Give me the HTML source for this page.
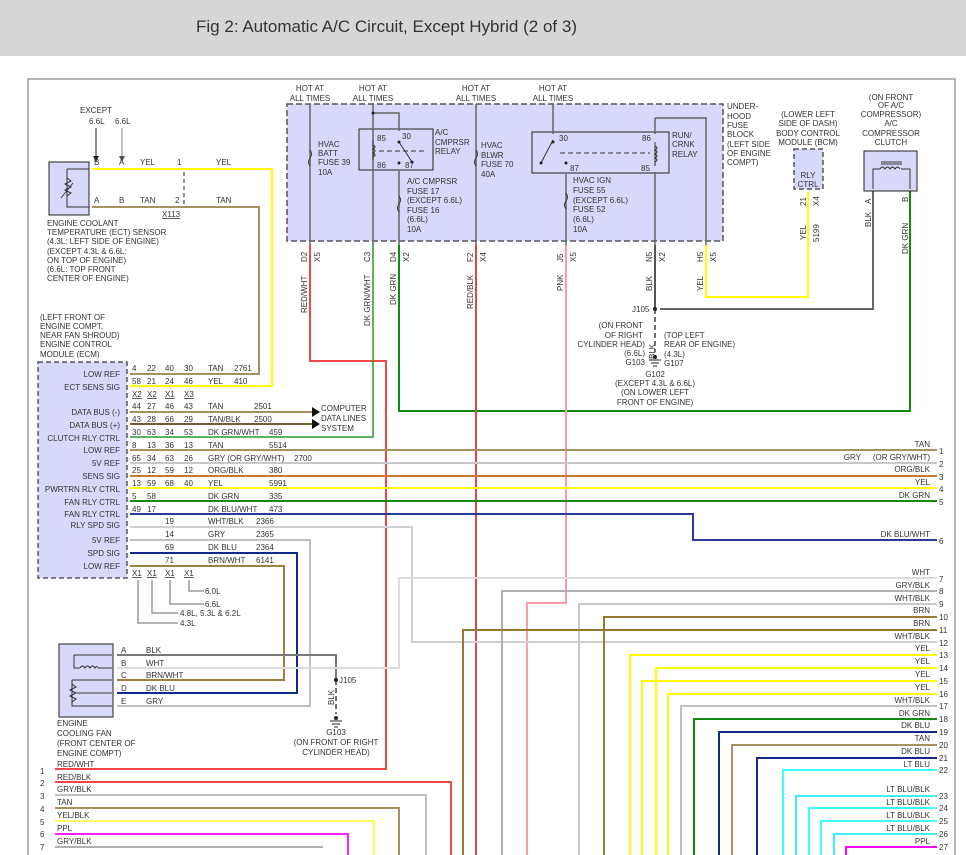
<!DOCTYPE html>
<html><head><meta charset="utf-8"><style>
html,body{margin:0;padding:0;background:#fff;}
svg{display:block;}
text{font-family:"Liberation Sans",sans-serif;font-size:8px;fill:#333;}
</style></head><body>
<svg width="966" height="855" viewBox="0 0 966 855" xmlns="http://www.w3.org/2000/svg">
<rect x="0" y="0" width="966" height="56" fill="#d6d6d6"/>
<text x="196" y="32" style="font-size:17px;fill:#333" textLength="381" lengthAdjust="spacingAndGlyphs">Fig 2: Automatic A/C Circuit, Except Hybrid (2 of 3)</text>
<path d="M28 855 V79 H955 V855" fill="none" stroke="#888" stroke-width="1.2"/>

<!-- Fuse block -->
<rect x="287" y="104" width="436" height="137" fill="#d8d8fa" stroke="#555" stroke-width="1.5" stroke-dasharray="6,3"/>
<rect x="359" y="129" width="74" height="41" fill="none" stroke="#222" stroke-width="1"/>
<rect x="532" y="132" width="137" height="41" fill="none" stroke="#222" stroke-width="1"/>
<g stroke="#666" stroke-width="1.5" fill="none">
<path d="M310 104 V245"/>
<path d="M373 103 V245"/><path d="M373 113 H399 V131"/>
<path d="M399 171 V245"/>
<path d="M476 104 V245"/>
<path d="M553 103 V134"/>
<path d="M566 174 V245"/>
<path d="M655 118 H706 V245"/><path d="M655 118 V134"/><path d="M655 172 V245"/>
</g>
<g stroke="#333" stroke-width="1" fill="none">
<path d="M373 140 V160 M373 145 q4 2 0 4 q4 2 0 4 q4 2 0 4"/>
<path d="M379 151 H424" stroke-dasharray="5,3"/>
<path d="M399 142 L412 162 V163"/>
<path d="M655 142 V166 M655 146 q4 2 0 4 q4 2 0 4 q4 2 0 4 q4 2 0 4"/>
<path d="M560 153 H650" stroke-dasharray="5,3"/>
<path d="M553 140 L541 163"/>
<path d="M310 150 q3 4 0 8 q-3 4 0 8"/><path d="M476 150 q3 4 0 8 q-3 4 0 8"/>
<path d="M399 196 q3 4 0 8 q-3 4 0 8"/><path d="M566 193 q3 4 0 8 q-3 4 0 8"/>
</g>
<g fill="#222">
<circle cx="373" cy="113" r="1.5"/><circle cx="399" cy="142" r="1.5"/><circle cx="412" cy="162" r="1.5"/><circle cx="399" cy="163" r="1.5"/>
<circle cx="553" cy="142" r="1.5"/><circle cx="541" cy="163" r="1.5"/><circle cx="566" cy="163" r="1.5"/>
</g>
<g text-anchor="middle">
<text x="310" y="91">HOT AT</text><text x="310" y="101">ALL TIMES</text>
<text x="373" y="91">HOT AT</text><text x="373" y="101">ALL TIMES</text>
<text x="476" y="91">HOT AT</text><text x="476" y="101">ALL TIMES</text>
<text x="553" y="91">HOT AT</text><text x="553" y="101">ALL TIMES</text>
</g>
<text x="318" y="147">HVAC</text><text x="318" y="156">BATT</text><text x="318" y="165">FUSE 39</text><text x="318" y="175">10A</text>
<text x="377" y="141">85</text><text x="402" y="139">30</text><text x="377" y="168">86</text><text x="405" y="168">87</text>
<text x="435" y="135">A/C</text><text x="435" y="145">CMPRSR</text><text x="435" y="154">RELAY</text>
<text x="407" y="184">A/C CMPRSR</text><text x="407" y="194">FUSE 17</text><text x="407" y="203">(EXCEPT 6.6L)</text><text x="407" y="213">FUSE 16</text><text x="407" y="222">(6.6L)</text><text x="407" y="232">10A</text>
<text x="481" y="148">HVAC</text><text x="481" y="158">BLWR</text><text x="481" y="167">FUSE 70</text><text x="481" y="177">40A</text>
<text x="559" y="141">30</text><text x="642" y="141">86</text><text x="570" y="171">87</text><text x="641" y="171">85</text>
<text x="672" y="138">RUN/</text><text x="672" y="147">CRNK</text><text x="672" y="157">RELAY</text>
<text x="573" y="183">HVAC IGN</text><text x="573" y="193">FUSE 55</text><text x="573" y="203">(EXCEPT 6.6L)</text><text x="573" y="212">FUSE 52</text><text x="573" y="222">(6.6L)</text><text x="573" y="232">10A</text>
<text x="727" y="109">UNDER-</text><text x="727" y="119">HOOD</text><text x="727" y="128">FUSE</text><text x="727" y="137">BLOCK</text><text x="727" y="147">(LEFT SIDE</text><text x="727" y="156">OF ENGINE</text><text x="727" y="165">COMPT)</text>

<g>
<text transform="translate(307,262) rotate(-90)">D2</text><text transform="translate(320,262) rotate(-90)">X5</text>
<text transform="translate(370,262) rotate(-90)">C3</text>
<text transform="translate(396,262) rotate(-90)">D4</text><text transform="translate(409,262) rotate(-90)">X2</text>
<text transform="translate(473,262) rotate(-90)">F2</text><text transform="translate(486,262) rotate(-90)">X4</text>
<text transform="translate(563,262) rotate(-90)">J5</text><text transform="translate(576,262) rotate(-90)">X5</text>
<text transform="translate(652,262) rotate(-90)">N5</text><text transform="translate(665,262) rotate(-90)">X2</text>
<text transform="translate(703,262) rotate(-90)">H5</text><text transform="translate(716,262) rotate(-90)">X5</text>
<text transform="translate(307,313) rotate(-90)">RED/WHT</text>
<text transform="translate(370,326) rotate(-90)">DK GRN/WHT</text>
<text transform="translate(396,305) rotate(-90)">DK GRN</text>
<text transform="translate(473,309) rotate(-90)">RED/BLK</text>
<text transform="translate(563,291) rotate(-90)">PNK</text>
<text transform="translate(652,291) rotate(-90)">BLK</text>
<text transform="translate(703,291) rotate(-90)">YEL</text>
<text transform="translate(806,206) rotate(-90)">21</text><text transform="translate(819,206) rotate(-90)">X4</text>
<text transform="translate(806,240) rotate(-90)">YEL</text><text transform="translate(819,242) rotate(-90)">5199</text>
<text transform="translate(871,227) rotate(-90)">BLK</text><text transform="translate(871,204) rotate(-90)">A</text>
<text transform="translate(908,202) rotate(-90)">B</text>
<text transform="translate(908,254) rotate(-90)">DK GRN</text>
<text transform="translate(655,359) rotate(-90)">BLK</text>
<text transform="translate(334,705) rotate(-90)">BLK</text>
</g>

<g fill="none" stroke-width="2">
<path d="M310 245 V361 H386 V769 H55" stroke="#f04848"/>
<path d="M373 245 V437 H130" stroke="#2a9a2a" stroke-width="1.5"/>
<path d="M399 245 V411 H910 V191" stroke="#108a10"/>
<path d="M476 245 V855" stroke="#e04848"/>
<path d="M566 245 V603 H527 V855" stroke="#ff9aaa"/>
<path d="M655 245 V309" stroke="#555"/>
<path d="M706 245 V297 H808 V192" stroke="#ffff00"/>
<path d="M660 309 H873 V191" stroke="#666"/>
</g>
<path d="M655 309 V352" stroke="#444" stroke-width="1.5" stroke-dasharray="5,3"/>
<circle cx="655" cy="309" r="2" fill="#222"/>
<path d="M649 360 H661 M651 363 H659 M653 366 H657" stroke="#222"/>
<circle cx="655" cy="357" r="2" fill="#222"/>
<text x="632" y="312">J105</text>
<g text-anchor="end"><text x="643" y="328">(ON FRONT</text><text x="643" y="338">OF RIGHT</text><text x="645" y="347">CYLINDER HEAD)</text><text x="645" y="356">(6.6L)</text><text x="645" y="365">G103</text></g>
<text x="664" y="338">(TOP LEFT</text><text x="664" y="347">REAR OF ENGINE)</text><text x="664" y="357">(4.3L)</text><text x="664" y="366">G107</text>
<g text-anchor="middle"><text x="655" y="377">G102</text><text x="655" y="386">(EXCEPT 4.3L &amp; 6.6L)</text><text x="655" y="395">(ON LOWER LEFT</text><text x="655" y="405">FRONT OF ENGINE)</text></g>

<rect x="794" y="149" width="29" height="40" fill="#d8d8fa" stroke="#555" stroke-width="1.5" stroke-dasharray="5,3"/>
<g text-anchor="middle"><text x="808" y="117">(LOWER LEFT</text><text x="808" y="126">SIDE OF DASH)</text><text x="808" y="136">BODY CONTROL</text><text x="808" y="145">MODULE (BCM)</text>
<text x="808" y="178">RLY</text><text x="808" y="187">CTRL</text>
<text x="891" y="100">(ON FRONT</text><text x="891" y="108">OF A/C</text><text x="891" y="117">COMPRESSOR)</text><text x="891" y="126">A/C</text><text x="891" y="136">COMPRESSOR</text><text x="891" y="145">CLUTCH</text></g>
<rect x="864" y="151" width="53" height="40" fill="#d8d8fa" stroke="#222" stroke-width="1"/>
<path d="M873 189 V169 H880 M901 169 H910 V189" stroke="#333" fill="none"/>
<path d="M880 169 q2.5 -4 5 0 q2.5 -4 5 0 q2.5 -4 5 0 q2.5 -4 5 0" stroke="#333" fill="none"/>
<path d="M881 162 H902 M881 164 H902" stroke="#333"/>

<rect x="49" y="162" width="40" height="53" fill="#d8d8fa" stroke="#222"/>
<path d="M67 169 H89 M67 169 V207 H89" stroke="#333" fill="none"/>
<path d="M67 178 l4 3 l-6 3 l6 3 l-6 3 l6 3 l-4 3 M61 198 l12 -15" stroke="#333" fill="none"/>
<path d="M96 128 V158" stroke="#222"/><path d="M93 156 L96 162 L99 156Z" fill="#222"/>
<path d="M122 128 V158" stroke="#888"/><path d="M119 156 L122 162 L125 156Z" fill="#555"/>
<text x="80" y="113">EXCEPT</text><text x="89" y="124">6.6L</text><text x="115" y="124">6.6L</text>
<text x="94" y="165">B</text><text x="119" y="165">A</text><text x="140" y="165">YEL</text><text x="177" y="165">1</text><text x="216" y="165">YEL</text>
<text x="94" y="203">A</text><text x="119" y="203">B</text><text x="140" y="203">TAN</text><text x="175" y="203">2</text><text x="216" y="203">TAN</text>
<text x="162" y="217" text-decoration="underline">X113</text>
<path d="M184 172 V204" stroke="#222" stroke-dasharray="4,3"/>
<g fill="none" stroke-width="2">
<path d="M92 169 H272 V386 H130" stroke="#ffff00"/>
<path d="M92 207 H259 V374 H130" stroke="#a89060"/>
</g>
<g><text x="47" y="226">ENGINE COOLANT</text><text x="47" y="235">TEMPERATURE (ECT) SENSOR</text><text x="47" y="244">(4.3L: LEFT SIDE OF ENGINE)</text><text x="47" y="254">(EXCEPT 4.3L &amp; 6.6L:</text><text x="47" y="263">ON TOP OF ENGINE)</text><text x="47" y="272">(6.6L: TOP FRONT</text><text x="47" y="281">CENTER OF ENGINE)</text>
<text x="40" y="320">(LEFT FRONT OF</text><text x="40" y="329">ENGINE COMPT,</text><text x="40" y="338">NEAR FAN SHROUD)</text><text x="40" y="347">ENGINE CONTROL</text><text x="40" y="357">MODULE (ECM)</text></g>

<rect x="38" y="362" width="89" height="216" fill="#d8d8fa" stroke="#555" stroke-width="1.5" stroke-dasharray="5,3"/>
<g text-anchor="end">
<text x="120" y="377">LOW REF</text><text x="120" y="390">ECT SENS SIG</text><text x="120" y="415">DATA BUS (-)</text><text x="120" y="428">DATA BUS (+)</text><text x="120" y="441">CLUTCH RLY CTRL</text><text x="120" y="453">LOW REF</text><text x="120" y="466">5V REF</text><text x="120" y="479">SENS SIG</text><text x="120" y="492">PWRTRN RLY CTRL</text><text x="120" y="505">FAN RLY CTRL</text><text x="120" y="517">FAN RLY CTRL</text><text x="120" y="528">RLY SPD SIG</text><text x="120" y="543">5V REF</text><text x="120" y="556">SPD SIG</text><text x="120" y="569">LOW REF</text>
</g>
<g fill="none" stroke-width="2">
<path d="M130 412 H312" stroke="#a89060"/>
<path d="M130 424 H312" stroke="#6e5e3a"/>
<path d="M130 450 H937" stroke="#a89060"/>
<path d="M130 463 H937" stroke="#c8c8c8"/>
<path d="M130 476 H937" stroke="#c87a30"/>
<path d="M130 488 H937" stroke="#ffff00"/>
<path d="M130 501 H937" stroke="#138a13"/>
<path d="M130 514 H693 V540 H937" stroke="#2a3a9a"/>
<path d="M130 527 H412 V642 H937" stroke="#d0d0d0"/>
<path d="M130 540 H310 V706 H117" stroke="#c0c0c0"/>
<path d="M130 553 H297 V693 H117" stroke="#102a8a"/>
<path d="M130 566 H284 V680 H117" stroke="#a08040"/>
<path d="M117 655 H336 V680" stroke="#777"/>
<path d="M117 668 H399 V578 H937" stroke="#dcdcdc"/>
</g>
<path d="M312 407 L320 412 L312 417Z M312 419 L320 424 L312 429Z" fill="#111"/>
<text x="321" y="411">COMPUTER</text><text x="321" y="421">DATA LINES</text><text x="321" y="431">SYSTEM</text>
<g>
<text x="132" y="371">4</text><text x="147" y="371">22</text><text x="165" y="371">40</text><text x="184" y="371">30</text><text x="208" y="371">TAN</text><text x="234" y="371">2761</text>
<text x="132" y="384">58</text><text x="147" y="384">21</text><text x="165" y="384">24</text><text x="184" y="384">46</text><text x="208" y="384">YEL</text><text x="234" y="384">410</text>
<text x="132" y="397" text-decoration="underline">X2</text><text x="147" y="397" text-decoration="underline">X2</text><text x="165" y="397" text-decoration="underline">X1</text><text x="184" y="397" text-decoration="underline">X3</text>
<text x="132" y="409">44</text><text x="147" y="409">27</text><text x="165" y="409">46</text><text x="184" y="409">43</text><text x="208" y="409">TAN</text><text x="254" y="409">2501</text>
<text x="132" y="422">43</text><text x="147" y="422">28</text><text x="165" y="422">66</text><text x="184" y="422">29</text><text x="208" y="422">TAN/BLK</text><text x="254" y="422">2500</text>
<text x="132" y="435">30</text><text x="147" y="435">63</text><text x="165" y="435">34</text><text x="184" y="435">53</text><text x="208" y="435">DK GRN/WHT</text><text x="269" y="435">459</text>
<text x="132" y="448">8</text><text x="147" y="448">13</text><text x="165" y="448">36</text><text x="184" y="448">13</text><text x="208" y="448">TAN</text><text x="269" y="448">5514</text>
<text x="132" y="461">65</text><text x="147" y="461">34</text><text x="165" y="461">63</text><text x="184" y="461">26</text><text x="208" y="461">GRY (OR GRY/WHT)</text><text x="294" y="461">2700</text>
<text x="132" y="473">25</text><text x="147" y="473">12</text><text x="165" y="473">59</text><text x="184" y="473">12</text><text x="208" y="473">ORG/BLK</text><text x="269" y="473">380</text>
<text x="132" y="486">13</text><text x="147" y="486">59</text><text x="165" y="486">68</text><text x="184" y="486">40</text><text x="208" y="486">YEL</text><text x="269" y="486">5991</text>
<text x="132" y="499">5</text><text x="147" y="499">58</text><text x="208" y="499">DK GRN</text><text x="269" y="499">335</text>
<text x="132" y="512">49</text><text x="147" y="512">17</text><text x="208" y="512">DK BLU/WHT</text><text x="269" y="512">473</text>
<text x="165" y="524">19</text><text x="208" y="524">WHT/BLK</text><text x="256" y="524">2366</text>
<text x="165" y="537">14</text><text x="208" y="537">GRY</text><text x="256" y="537">2365</text>
<text x="165" y="550">69</text><text x="208" y="550">DK BLU</text><text x="256" y="550">2364</text>
<text x="165" y="563">71</text><text x="208" y="563">BRN/WHT</text><text x="256" y="563">6141</text>
<text x="132" y="576" text-decoration="underline">X1</text><text x="147" y="576" text-decoration="underline">X1</text><text x="165" y="576" text-decoration="underline">X1</text><text x="184" y="576" text-decoration="underline">X1</text>
</g>
<g fill="none" stroke="#888" stroke-width="1.3">
<path d="M189 580 V591 H204 M170 580 V604 H204 M152 580 V613 H178 M138 580 V623 H178"/>
</g>
<text x="205" y="594">6.0L</text><text x="205" y="607">6.6L</text><text x="180" y="616">4.8L, 5.3L &amp; 6.2L</text><text x="180" y="626">4.3L</text>

<rect x="59" y="644" width="54" height="73" fill="#d8d8fa" stroke="#222"/>
<path d="M74 655 H112 M74 655 V668 H80 M98 668 H112 M72 680 H112 M72 680 V706 H112 M77 693 H112" stroke="#333" fill="none"/>
<path d="M80 668 q2.5 -4 5 0 q2.5 -4 5 0 q2.5 -4 5 0 q1.5 -3 3 0" stroke="#333" fill="none"/>
<path d="M72 684 l4 3 l-6 3 l6 3 l-6 3 l6 3 l-4 3" stroke="#333" fill="none"/>
<text x="121" y="653">A</text><text x="121" y="666">B</text><text x="121" y="678">C</text><text x="121" y="691">D</text><text x="121" y="704">E</text>
<text x="146" y="653">BLK</text><text x="146" y="666">WHT</text><text x="146" y="678">BRN/WHT</text><text x="146" y="691">DK BLU</text><text x="146" y="704">GRY</text>
<text x="57" y="726">ENGINE</text><text x="57" y="736">COOLING FAN</text><text x="57" y="746">(FRONT CENTER OF</text><text x="57" y="756">ENGINE COMPT)</text>
<path d="M336 680 V714" stroke="#444" stroke-width="1.5" stroke-dasharray="5,3"/>
<circle cx="336" cy="680" r="2" fill="#222"/><circle cx="336" cy="718" r="2" fill="#222"/>
<path d="M330 721 H342 M332 724 H340 M334 727 H338" stroke="#222"/>
<text x="339" y="683">J105</text>
<g text-anchor="middle"><text x="336" y="735">G103</text><text x="336" y="745">(ON FRONT OF RIGHT</text><text x="336" y="755">CYLINDER HEAD)</text></g>

<g fill="none" stroke-width="2">
<path d="M55 782 H451 V855" stroke="#f04848"/>
<path d="M55 795 H426 V855" stroke="#c0c0c0"/>
<path d="M55 808 H399 V855" stroke="#a89060"/>
<path d="M55 821 H374 V855" stroke="#ffff60"/>
<path d="M55 834 H348 V855" stroke="#ff20ff"/>
<path d="M55 847 H323" stroke="#b0b0b0"/>
</g>
<g><text x="40" y="774">1</text><text x="40" y="786">2</text><text x="40" y="799">3</text><text x="40" y="812">4</text><text x="40" y="825">5</text><text x="40" y="837">6</text><text x="40" y="850">7</text>
<text x="57" y="767">RED/WHT</text><text x="57" y="780">RED/BLK</text><text x="57" y="792">GRY/BLK</text><text x="57" y="805">TAN</text><text x="57" y="818">YEL/BLK</text><text x="57" y="831">PPL</text><text x="57" y="844">GRY/BLK</text></g>

<g fill="none" stroke-width="2">
<path d="M937 591 H502 V855" stroke="#b0b0b0"/>
<path d="M937 604 H579 V855" stroke="#c8c8c8"/>
<path d="M937 617 H604 V855" stroke="#9a7a30"/>
<path d="M937 630 H463 V855" stroke="#9a7a30"/>
<path d="M937 655 H630 V855" stroke="#ffff00"/>
<path d="M937 668 H656 V855" stroke="#ffff00"/>
<path d="M937 681 H642 V855" stroke="#ffff00"/>
<path d="M937 694 H668 V855" stroke="#ffff00"/>
<path d="M937 706 H681 V855" stroke="#c0c0c0"/>
<path d="M937 719 H694 V855" stroke="#108a10"/>
<path d="M937 732 H719 V855" stroke="#102a8a"/>
<path d="M937 745 H732 V855" stroke="#a89060"/>
<path d="M937 758 H757 V855" stroke="#102a8a"/>
<path d="M937 770 H783 V855" stroke="#40ffff"/>
<path d="M937 796 H796 V855" stroke="#40f0f0"/>
<path d="M937 808 H809 V855" stroke="#40ffff"/>
<path d="M937 821 H821 V855" stroke="#40ffff"/>
<path d="M937 834 H834 V855" stroke="#40f0f0"/>
<path d="M937 847 H846 V855" stroke="#ff00ff"/>
</g>
<g text-anchor="end">
<text x="930" y="447">TAN</text><text x="861" y="460">GRY</text><text x="930" y="460">(OR GRY/WHT)</text><text x="930" y="472">ORG/BLK</text><text x="930" y="485">YEL</text><text x="930" y="498">DK GRN</text><text x="930" y="537">DK BLU/WHT</text>
<text x="930" y="575">WHT</text><text x="930" y="588">GRY/BLK</text><text x="930" y="601">WHT/BLK</text><text x="930" y="613">BRN</text><text x="930" y="626">BRN</text><text x="930" y="639">WHT/BLK</text>
<text x="930" y="651">YEL</text><text x="930" y="664">YEL</text><text x="930" y="677">YEL</text><text x="930" y="690">YEL</text><text x="930" y="703">WHT/BLK</text><text x="930" y="716">DK GRN</text><text x="930" y="728">DK BLU</text><text x="930" y="741">TAN</text><text x="930" y="754">DK BLU</text><text x="930" y="767">LT BLU</text>
<text x="930" y="792">LT BLU/BLK</text><text x="930" y="805">LT BLU/BLK</text><text x="930" y="818">LT BLU/BLK</text><text x="930" y="831">LT BLU/BLK</text><text x="930" y="844">PPL</text>
</g>
<g>
<text x="939" y="454">1</text><text x="939" y="467">2</text><text x="939" y="480">3</text><text x="939" y="492">4</text><text x="939" y="505">5</text><text x="939" y="544">6</text>
<text x="939" y="582">7</text><text x="939" y="594">8</text><text x="939" y="607">9</text><text x="939" y="620">10</text><text x="939" y="633">11</text><text x="939" y="646">12</text>
<text x="939" y="658">13</text><text x="939" y="671">14</text><text x="939" y="684">15</text><text x="939" y="697">16</text><text x="939" y="709">17</text><text x="939" y="722">18</text><text x="939" y="735">19</text><text x="939" y="748">20</text><text x="939" y="761">21</text><text x="939" y="773">22</text>
<text x="939" y="799">23</text><text x="939" y="811">24</text><text x="939" y="824">25</text><text x="939" y="837">26</text><text x="939" y="850">27</text>
</g>
</svg>
</body></html>
